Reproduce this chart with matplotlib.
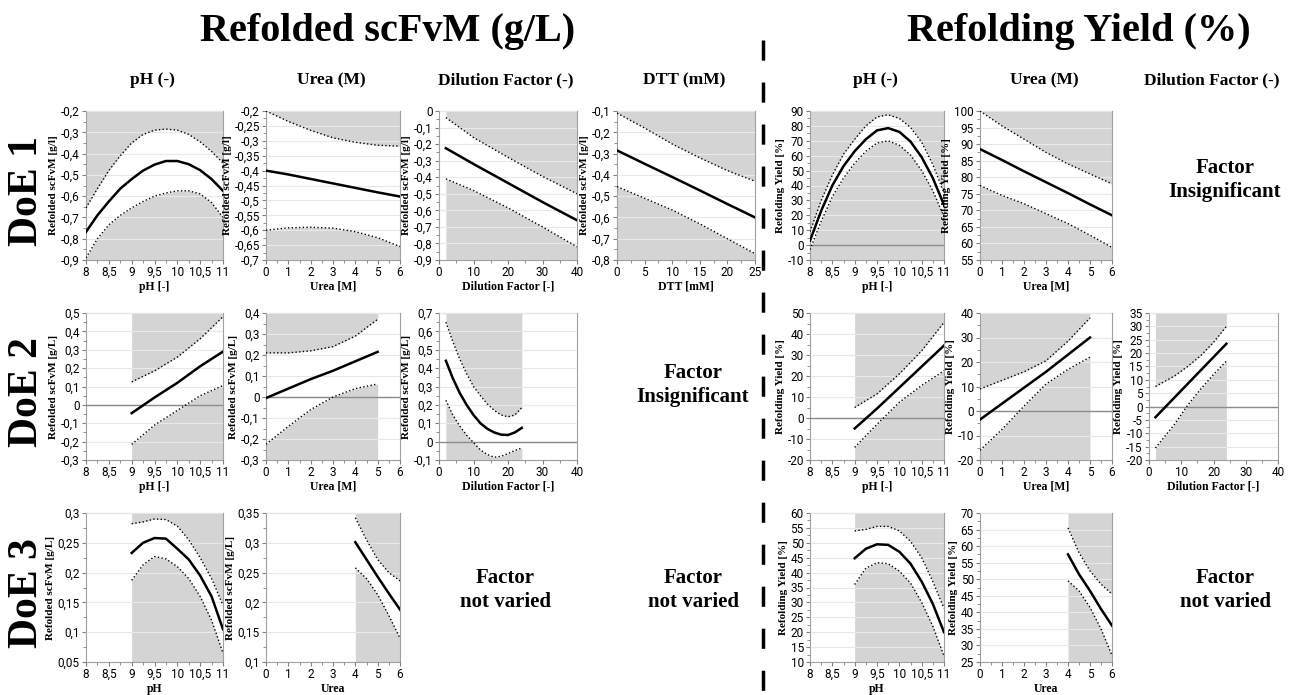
import matplotlib.pyplot as plt
from matplotlib.lines import Line2D
from matplotlib.ticker import FuncFormatter, MultipleLocator, AutoMinorLocator

W, H = 1314, 695

# ---- DoE 1, refolded scFvM ----
d1_ph = [8, 8.25, 8.5, 8.75, 9, 9.25, 9.5, 9.75, 10, 10.25, 10.5, 10.75, 11]
d1_ph_fit = [-0.768, -0.69, -0.625, -0.565, -0.52, -0.48, -0.452, -0.435, -0.435, -0.45, -0.478, -0.52, -0.575]
d1_ph_hi = [-0.655, -0.565, -0.48, -0.41, -0.35, -0.31, -0.29, -0.285, -0.29, -0.31, -0.345, -0.39, -0.445]
d1_ph_lo = [-0.89, -0.80, -0.735, -0.69, -0.655, -0.625, -0.60, -0.585, -0.575, -0.575, -0.59, -0.63, -0.70]

d1_urea = [0, 1, 2, 3, 4, 5, 6]
d1_urea_fit = [-0.400, -0.413, -0.428, -0.443, -0.458, -0.473, -0.487]
d1_urea_hi = [-0.20, -0.235, -0.265, -0.29, -0.305, -0.315, -0.318]
d1_urea_lo = [-0.60, -0.592, -0.590, -0.593, -0.605, -0.625, -0.655]

d1_dil = [2, 10, 20, 30, 40]
d1_dil_fit = [-0.225, -0.32, -0.435, -0.55, -0.66]
d1_dil_hi = [-0.04, -0.16, -0.28, -0.395, -0.50]
d1_dil_lo = [-0.41, -0.48, -0.585, -0.70, -0.82]

d1_dtt = [0, 5, 10, 15, 20, 25]
d1_dtt_fit = [-0.285, -0.348, -0.41, -0.473, -0.537, -0.60]
d1_dtt_hi = [-0.11, -0.18, -0.255, -0.32, -0.38, -0.43]
d1_dtt_lo = [-0.455, -0.51, -0.565, -0.63, -0.70, -0.77]

# ---- DoE 1, refolding yield ----
y1_ph_fit = [3, 23, 40, 53, 63, 71, 77, 78.5, 76, 69.5, 59, 45, 27]
y1_ph_hi = [9, 30, 47, 61, 71, 80, 86, 87.5, 85, 79, 69, 54, 35]
y1_ph_lo = [-3, 16, 32.5, 45, 55, 63, 68.5, 70, 67, 60.5, 50, 36.5, 19]

y1_urea_fit = [88.5, 85.2, 81.8, 78.5, 75.2, 71.8, 68.5]
y1_urea_hi = [100, 95.5, 91.5, 87.5, 84, 81, 78]
y1_urea_lo = [77.5, 74.5, 72, 69, 66, 62.5, 58.8]

# ---- DoE 2, refolded scFvM ----
d2_ph = [9, 9.5, 10, 10.5, 11]
d2_ph_fit = [-0.045, 0.04, 0.12, 0.21, 0.29]
d2_ph_hi = [0.125, 0.185, 0.26, 0.36, 0.48]
d2_ph_lo = [-0.215, -0.11, -0.03, 0.05, 0.105]

d2_urea = [0, 1, 2, 3, 4, 5]
d2_urea_fit = [-0.005, 0.04, 0.085, 0.125, 0.17, 0.215]
d2_urea_hi = [0.21, 0.21, 0.22, 0.24, 0.29, 0.37]
d2_urea_lo = [-0.225, -0.14, -0.06, 0.0, 0.04, 0.062]

d2_dil = [2, 4, 6, 8, 10, 12, 14, 16, 18, 20, 22, 24]
d2_dil_fit = [0.44, 0.345, 0.265, 0.20, 0.145, 0.10, 0.07, 0.05, 0.038, 0.036, 0.05, 0.075]
d2_dil_hi = [0.65, 0.545, 0.45, 0.37, 0.30, 0.25, 0.205, 0.17, 0.145, 0.135, 0.145, 0.185]
d2_dil_lo = [0.225, 0.145, 0.085, 0.035, -0.005, -0.045, -0.07, -0.085, -0.08, -0.065, -0.048, -0.035]

# ---- DoE 2, refolding yield ----
y2_ph_fit = [-5, 4.5, 14.5, 24.5, 34.5]
y2_ph_hi = [5, 11.5, 21, 32, 45.5]
y2_ph_lo = [-14, -3, 7.5, 15.5, 22.5]

y2_urea_fit = [-3.5, 3, 9.5, 16, 23, 30]
y2_urea_hi = [9, 12.5, 16, 20.5, 28.5, 38]
y2_urea_lo = [-16, -7.5, 2, 11, 17, 22]

y2_dil = [2, 8, 12, 16, 20, 24]
y2_dil_fit = [-4, 3.5, 8.5, 13.5, 18.5, 23.5]
y2_dil_hi = [7.5, 11.5, 15, 19, 24, 30]
y2_dil_lo = [-15.5, -6.5, 0.5, 6.5, 12, 17]

# ---- DoE 3 ----
d3_ph = [9, 9.25, 9.5, 9.75, 10, 10.25, 10.5, 10.75, 11]
d3_ph_fit = [0.233, 0.25, 0.258, 0.257, 0.24, 0.222, 0.195, 0.16, 0.105]
d3_ph_hi = [0.282, 0.285, 0.29, 0.289, 0.278, 0.255, 0.225, 0.19, 0.145]
d3_ph_lo = [0.187, 0.213, 0.227, 0.223, 0.21, 0.19, 0.16, 0.12, 0.065]

d3_urea = [4, 4.5, 5, 5.5, 6]
d3_urea_fit = [0.301, 0.272, 0.243, 0.215, 0.188]
d3_urea_hi = [0.342, 0.305, 0.272, 0.25, 0.236]
d3_urea_lo = [0.258, 0.24, 0.213, 0.178, 0.14]

y3_ph_fit = [44.8, 48, 49.5, 49.3, 47, 43, 37, 29.5, 20]
y3_ph_hi = [54, 54.5, 55.5, 55.5, 54, 50.5, 45, 37, 28]
y3_ph_lo = [36, 41.5, 43.3, 43, 40.5, 36.5, 30, 22, 12]

y3_urea_fit = [57.5, 51.5, 46.5, 41, 36]
y3_urea_hi = [65.5, 58, 52.5, 48.5, 45.5]
y3_urea_lo = [49.5, 46.5, 41.5, 35, 27]

# column headers
left_headers = ["pH (-)", "Urea (M)", "Dilution Factor (-)", "DTT (mM)"]
right_headers = ["pH (-)", "Urea (M)", "Dilution Factor (-)"]
doe_labels = ["DoE 1", "DoE 2", "DoE 3"]

cols = [(86, 223), (266, 400), (439, 577), (617, 755), (810, 944), (980, 1112), (1149, 1278)]
rows = [(111, 260), (313, 460), (513, 662)]

SERIF = "Liberation Serif"
TICKFONT = ["Liberation Sans Narrow", "Roboto", "DejaVu Sans"]

fig = plt.figure(figsize=(W / 100, H / 100), dpi=100)


def comma(v, pos):
    s = f"{v:.2f}".rstrip("0").rstrip(".")
    if s == "-0":
        s = "0"
    return s.replace(".", ",")


def panel(r, c, x, fit, hi, lo, xlim, xstep, ylim, ystep, xlabel, ylabel):
    l, rr = cols[c]
    t, b = rows[r]
    ax = fig.add_axes([l / W, 1 - b / H, (rr - l) / W, (b - t) / H])
    ax.fill_between(x, hi, ylim[1], color="#d4d4d4", lw=0, zorder=1)
    ax.fill_between(x, ylim[0], lo, color="#d4d4d4", lw=0, zorder=1)
    ax.set_xlim(*xlim)
    ax.set_ylim(*ylim)
    ax.xaxis.set_major_locator(MultipleLocator(xstep))
    ax.yaxis.set_major_locator(MultipleLocator(ystep))
    ax.xaxis.set_minor_locator(AutoMinorLocator(2))
    ax.yaxis.set_minor_locator(AutoMinorLocator(2))
    ax.xaxis.set_major_formatter(FuncFormatter(comma))
    ax.yaxis.set_major_formatter(FuncFormatter(comma))
    ax.set_axisbelow(False)
    ax.grid(axis="y", color="#e8e8e8", lw=0.8, zorder=1.5)
    if ylim[0] < 0 < ylim[1]:
        ax.axhline(0, color="#8c8c8c", lw=1.0, zorder=2.7)
    ax.plot(x, hi, color="black", lw=1.0, ls=":", zorder=3)
    ax.plot(x, lo, color="black", lw=1.0, ls=":", zorder=3)
    ax.plot(x, fit, color="black", lw=1.8, zorder=3)
    for s in ax.spines.values():
        s.set_color("#a0a0a0")
    ax.tick_params(which="both", direction="out", color="#808080", labelsize=8.5, pad=1.5)
    ax.tick_params(which="minor", length=2)
    ax.tick_params(which="major", length=3)
    for lab in ax.get_xticklabels() + ax.get_yticklabels():
        lab.set_family(TICKFONT)
    ax.set_xlabel(xlabel, family=SERIF, weight="bold", fontsize=8.5, labelpad=1)
    ax.set_ylabel(ylabel, family=SERIF, weight="bold", fontsize=8, labelpad=2)
    return ax


gl1 = "Refolded scFvM [g/l]"
gL = "Refolded scFvM [g/L]"
ry = "Refolding Yield [%]"

# DoE 1
panel(0, 0, d1_ph, d1_ph_fit, d1_ph_hi, d1_ph_lo, (8, 11), 0.5, (-0.9, -0.2), 0.1, "pH [-]", gl1)
panel(0, 1, d1_urea, d1_urea_fit, d1_urea_hi, d1_urea_lo, (0, 6), 1, (-0.7, -0.2), 0.05, "Urea [M]", gl1)
panel(0, 2, d1_dil, d1_dil_fit, d1_dil_hi, d1_dil_lo, (0, 40), 10, (-0.9, 0), 0.1, "Dilution Factor [-]", gl1)
panel(0, 3, d1_dtt, d1_dtt_fit, d1_dtt_hi, d1_dtt_lo, (0, 25), 5, (-0.8, -0.1), 0.1, "DTT [mM]", gl1)
panel(0, 4, d1_ph, y1_ph_fit, y1_ph_hi, y1_ph_lo, (8, 11), 0.5, (-10, 90), 10, "pH [-]", ry)
panel(0, 5, d1_urea, y1_urea_fit, y1_urea_hi, y1_urea_lo, (0, 6), 1, (55, 100), 5, "Urea [M]", ry)

# DoE 2
panel(1, 0, d2_ph, d2_ph_fit, d2_ph_hi, d2_ph_lo, (8, 11), 0.5, (-0.3, 0.5), 0.1, "pH [-]", gL)
panel(1, 1, d2_urea, d2_urea_fit, d2_urea_hi, d2_urea_lo, (0, 6), 1, (-0.3, 0.4), 0.1, "Urea [M]", gL)
panel(1, 2, d2_dil, d2_dil_fit, d2_dil_hi, d2_dil_lo, (0, 40), 10, (-0.1, 0.7), 0.1, "Dilution Factor [-]", gL)
panel(1, 4, d2_ph, y2_ph_fit, y2_ph_hi, y2_ph_lo, (8, 11), 0.5, (-20, 50), 10, "pH [-]", ry)
panel(1, 5, d2_urea, y2_urea_fit, y2_urea_hi, y2_urea_lo, (0, 6), 1, (-20, 40), 10, "Urea [M]", ry)
panel(1, 6, y2_dil, y2_dil_fit, y2_dil_hi, y2_dil_lo, (0, 40), 10, (-20, 35), 5, "Dilution Factor [-]", ry)

# DoE 3
panel(2, 0, d3_ph, d3_ph_fit, d3_ph_hi, d3_ph_lo, (8, 11), 0.5, (0.05, 0.3), 0.05, "pH", gL)
panel(2, 1, d3_urea, d3_urea_fit, d3_urea_hi, d3_urea_lo, (0, 6), 1, (0.1, 0.35), 0.05, "Urea", gL)
panel(2, 4, d3_ph, y3_ph_fit, y3_ph_hi, y3_ph_lo, (8, 11), 0.5, (10, 60), 5, "pH", ry)
panel(2, 5, d3_urea, y3_urea_fit, y3_urea_hi, y3_urea_lo, (0, 6), 1, (25, 70), 5, "Urea", ry)


def ftext(x, y, s, size, **kw):
    fig.text(x / W, 1 - y / H, s, family=SERIF, weight="bold", fontsize=size,
             ha="center", va="center", **kw)


# big titles
ftext(388, 32, "Refolded scFvM (g/L)", 29)
ftext(1079, 32, "Refolding Yield (%)", 29)

# column headers
for (l, r), h in zip(cols[:4], left_headers):
    ftext((l + r) / 2 - 2, 80, h, 12.5)
for (l, r), h in zip(cols[4:], right_headers):
    ftext((l + r) / 2 - 2, 80, h, 12.5)

# row labels
for (t, b), lab in zip(rows, doe_labels):
    ftext(27, (t + b) / 2 + 6, lab, 30, rotation=90)

# text instead of panels
ftext(1225, 180, "Factor\nInsignificant", 15, linespacing=1.3)
ftext(693, 385, "Factor\nInsignificant", 15, linespacing=1.3)
ftext(505, 590, "Factor\nnot varied", 15, linespacing=1.3)
ftext(693, 590, "Factor\nnot varied", 15, linespacing=1.3)
ftext(1225, 590, "Factor\nnot varied", 15, linespacing=1.3)

# dashed separator
fig.add_artist(Line2D([763 / W, 763 / W], [1 - 40 / H, 0], transform=fig.transFigure,
                      color="black", lw=2.5, linestyle=(0, (5.8, 6.3))))

fig.savefig("out.png", dpi=100)
